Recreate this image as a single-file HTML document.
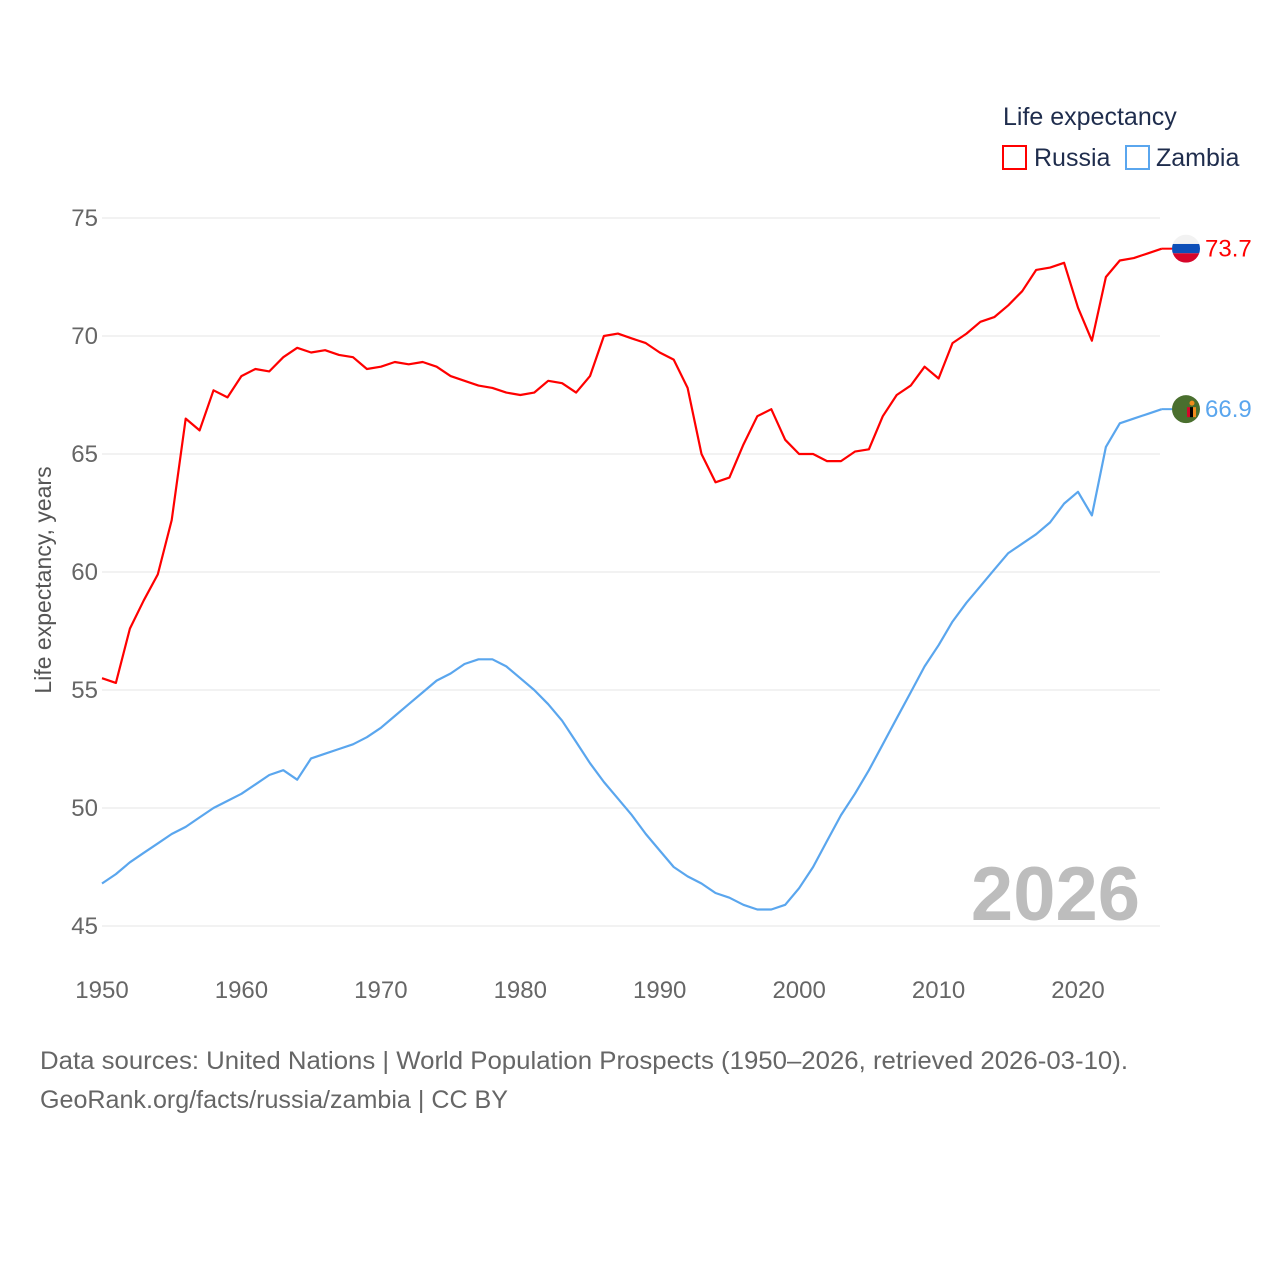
<!DOCTYPE html>
<html><head><meta charset="utf-8"><style>
body{margin:0;background:#fff;font-family:"Liberation Sans",sans-serif}
svg text{font-family:"Liberation Sans",sans-serif}
</style></head><body>
<svg id="chart" width="1280" height="1280">
<text x="1003" y="125" font-size="25" fill="#1f2d4d">Life expectancy</text>
<g><rect x="1003" y="146" width="23" height="23" fill="none" stroke="#ff0000" stroke-width="2"/><text x="1034" y="166" font-size="25" fill="#1f2d4d">Russia</text></g>
<g><rect x="1126" y="146" width="23" height="23" fill="none" stroke="#5aa6ee" stroke-width="2"/><text x="1156" y="166" font-size="25" fill="#1f2d4d">Zambia</text></g>
<text transform="translate(51,580) rotate(-90)" text-anchor="middle" font-size="23" fill="#555">Life expectancy, years</text>
<g id="grid"></g><g id="series"></g>
<text x="1140" y="920" text-anchor="end" font-size="76" font-weight="bold" fill="#bdbdbd">2026</text>
<text x="40" y="1069" font-size="25" fill="#666" textLength="1088" lengthAdjust="spacingAndGlyphs">Data sources: United Nations | World Population Prospects (1950–2026, retrieved 2026-03-10).</text>
<text x="40" y="1108" font-size="25" fill="#666" textLength="468" lengthAdjust="spacingAndGlyphs">GeoRank.org/facts/russia/zambia | CC BY</text>
</svg>
<script>
const years=[];for(let y=1950;y<=2026;y++)years.push(y);
const russia=[55.5,55.3,57.6,58.8,59.9,62.2,66.5,66.0,67.7,67.4,68.3,68.6,68.5,69.1,69.5,69.3,69.4,69.2,69.1,68.6,68.7,68.9,68.8,68.9,68.7,68.3,68.1,67.9,67.8,67.6,67.5,67.6,68.1,68.0,67.6,68.3,70.0,70.1,69.9,69.7,69.3,69.0,67.8,65.0,63.8,64.0,65.4,66.6,66.9,65.6,65.0,65.0,64.7,64.7,65.1,65.2,66.6,67.5,67.9,68.7,68.2,69.7,70.1,70.6,70.8,71.3,71.9,72.8,72.9,73.1,71.2,69.8,72.5,73.2,73.3,73.5,73.7];
const zambia=[46.8,47.2,47.7,48.1,48.5,48.9,49.2,49.6,50.0,50.3,50.6,51.0,51.4,51.6,51.2,52.1,52.3,52.5,52.7,53.0,53.4,53.9,54.4,54.9,55.4,55.7,56.1,56.3,56.3,56.0,55.5,55.0,54.4,53.7,52.8,51.9,51.1,50.4,49.7,48.9,48.2,47.5,47.1,46.8,46.4,46.2,45.9,45.7,45.7,45.9,46.6,47.5,48.6,49.7,50.6,51.6,52.7,53.8,54.9,56.0,56.9,57.9,58.7,59.4,60.1,60.8,61.2,61.6,62.1,62.9,63.4,62.4,65.3,66.3,66.5,66.7,66.9];
const yTicks=[45,50,55,60,65,70,75];
const xTicks=[1950,1960,1970,1980,1990,2000,2010,2020];
const NS='http://www.w3.org/2000/svg';
const X=y=>102+(y-1950)*(976/70);
const Y=v=>218+(75-v)*(708/30);
function mk(tag,attrs,parent,txt){const e=document.createElementNS(NS,tag);for(const k in attrs)e.setAttribute(k,attrs[k]);if(txt!==undefined)e.textContent=txt;parent.appendChild(e);return e;}
const grid=document.getElementById('grid'),ser=document.getElementById('series');
yTicks.forEach(t=>{
 const l=mk('line',{x1:102,x2:1160,y1:Y(t),y2:Y(t),stroke:'#e6e6e6','stroke-width':1},grid);
 
 
 const tx=mk('text',{x:98,y:Y(t)+8,'text-anchor':'end','font-size':24,fill:'#666'},grid,String(t));
 
 
});
xTicks.forEach(t=>{
 const tx=mk('text',{x:X(t),y:998,'text-anchor':'middle','font-size':24,fill:'#666'},grid,String(t));
 
 
});
function line(vals,color,name){
 const d=vals.map((v,i)=>(i?'L':'M')+X(years[i]).toFixed(1)+','+Y(v).toFixed(1)).join('');
 const p=mk('path',{d:d,fill:'none',stroke:color,'stroke-width':2.2,'stroke-linejoin':'round'},ser);
 
 
 const last=vals[vals.length-1];
 mk('line',{x1:X(2026),x2:1172,y1:Y(last),y2:Y(last),stroke:color,'stroke-width':2},ser);
 const lb=mk('text',{x:1205,y:Y(last)+8,'font-size':24,fill:color},ser,last.toFixed(1));
 
 
 return Y(last);
}
const ry=line(russia,'#ff0000','russia');
const zy=line(zambia,'#5aa6ee','zambia');
const fr=mk('g',{},ser);


mk('clipPath',{id:'cr'},fr);mk('circle',{cx:1186,cy:ry,r:14},fr.lastChild);
const gr=mk('g',{'clip-path':'url(#cr)'},fr);
mk('rect',{x:1172,y:ry-14,width:28,height:9.3,fill:'#f2f2f2'},gr);
mk('rect',{x:1172,y:ry-4.7,width:28,height:9.3,fill:'#0d4fb8'},gr);
mk('rect',{x:1172,y:ry+4.6,width:28,height:9.4,fill:'#d6062a'},gr);
const fz=mk('g',{},ser);


mk('circle',{cx:1186,cy:zy,r:14,fill:'#4a6f2e'},fz);
mk('rect',{x:1187,y:zy-2,width:3,height:10,fill:'#d6062a'},fz);
mk('rect',{x:1190,y:zy-2,width:3,height:10,fill:'#000'},fz);
mk('rect',{x:1193,y:zy-2,width:3,height:10,fill:'#f28c1c'},fz);
mk('circle',{cx:1192,cy:zy-6,r:2.5,fill:'#f28c1c'},fz);
</script>
</body></html>
